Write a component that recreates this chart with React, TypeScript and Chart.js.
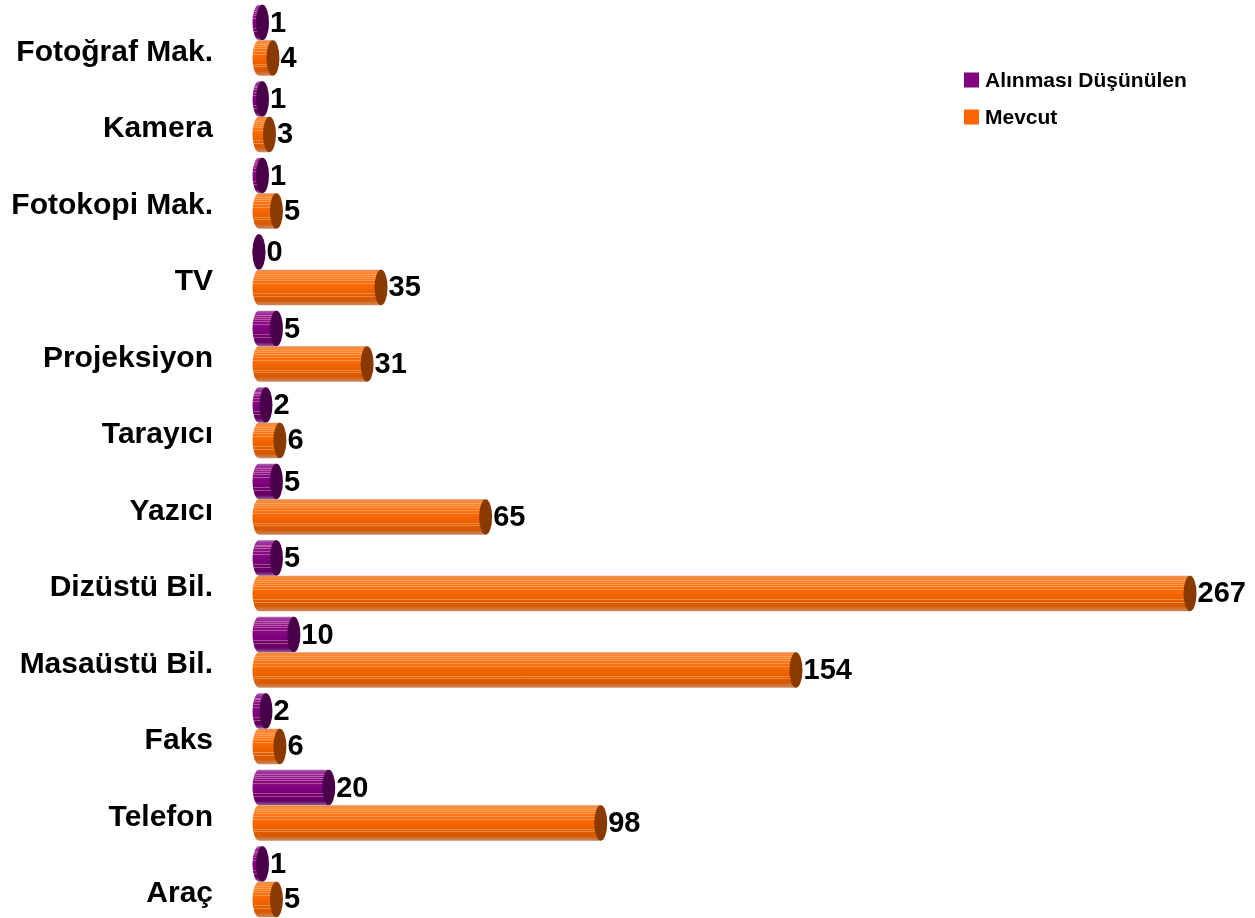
import React, { useEffect, useRef } from 'react';
import { Chart, registerables } from 'chart.js';

Chart.register(...registerables);

const categories = [
  'Fotoğraf Mak.',
  'Kamera',
  'Fotokopi Mak.',
  'TV',
  'Projeksiyon',
  'Tarayıcı',
  'Yazıcı',
  'Dizüstü Bil.',
  'Masaüstü Bil.',
  'Faks',
  'Telefon',
  'Araç',
];
const plannedValues = [1, 1, 1, 0, 5, 2, 5, 5, 10, 2, 20, 1];
const existingValues = [4, 3, 5, 35, 31, 6, 65, 267, 154, 6, 98, 5];
const seriesNames = ['Alınması Düşünülen', 'Mevcut'];
const seriesColors = ['#800080', '#ff6600'];

const FONT = 'Arial, "Liberation Sans", sans-serif';

const bodyStops: [number, string][][] = [
  [
    [0, '#a46aa4'],
    [0.07, '#a02ea0'],
    [0.3, '#8c0c8c'],
    [0.6, '#7a007a'],
    [0.88, '#640064'],
    [1, '#9a609a'],
  ],
  [
    [0, '#dc9062'],
    [0.07, '#ff8a32'],
    [0.3, '#ff7212'],
    [0.55, '#f26400'],
    [0.86, '#d65800'],
    [1, '#cc8a66'],
  ],
];
const capColors = ['#4a0048', '#8a3a00'];
const stripeFracs = [0.12, 0.17, 0.22, 0.3, 0.38, 0.66, 0.74];
const CAP_RX = 6.5;

const cylinderPlugin = {
  id: 'cylinders',
  afterDatasetsDraw(chart: any) {
    const ctx: CanvasRenderingContext2D = chart.ctx;
    chart.data.datasets.forEach((ds: any, di: number) => {
      const meta = chart.getDatasetMeta(di);
      meta.data.forEach((bar: any, i: number) => {
        const { x, y, base, height } = bar.getProps(['x', 'y', 'base', 'height'], true);
        const ry = height / 2;
        const top = y - ry;
        const bot = y + ry;
        const rx = CAP_RX;
        ctx.save();
        const g = ctx.createLinearGradient(0, top, 0, bot);
        bodyStops[di].forEach(([o, c]) => g.addColorStop(o, c));
        ctx.beginPath();
        ctx.moveTo(base, top);
        ctx.lineTo(x, top);
        ctx.lineTo(x, bot);
        ctx.lineTo(base, bot);
        ctx.ellipse(base, y, rx, ry, 0, Math.PI / 2, Math.PI * 1.5);
        ctx.closePath();
        ctx.fillStyle = g;
        ctx.fill();
        ctx.clip();
        ctx.strokeStyle = 'rgba(255,220,190,0.35)';
        ctx.lineWidth = 1;
        stripeFracs.forEach((f) => {
          const yy = Math.round(top + f * height) + 0.5;
          ctx.beginPath();
          ctx.moveTo(base - rx, yy);
          ctx.lineTo(x, yy);
          ctx.stroke();
        });
        ctx.restore();

        ctx.beginPath();
        ctx.ellipse(x, y, rx, ry, 0, 0, Math.PI * 2);
        ctx.fillStyle = capColors[di];
        ctx.fill();

        ctx.fillStyle = '#000';
        ctx.font = `bold 29px ${FONT}`;
        ctx.textBaseline = 'middle';
        ctx.textAlign = 'left';
        ctx.fillText(String(ds.data[i]), x + rx + 1, y + 1);
      });
    });
  },
};

const legendPlugin = {
  id: 'customLegend',
  afterDraw(chart: any) {
    const ctx: CanvasRenderingContext2D = chart.ctx;
    ctx.save();
    seriesNames.forEach((name, i) => {
      const cy = 80 + i * 37;
      ctx.fillStyle = seriesColors[i];
      ctx.fillRect(964, cy - 7.5, 15, 15);
      ctx.fillStyle = '#000';
      ctx.font = `bold 21px ${FONT}`;
      ctx.textBaseline = 'middle';
      ctx.textAlign = 'left';
      ctx.fillText(name, 985, cy + 1);
    });
    ctx.restore();
  },
};

export default function App() {
  const ref = useRef<HTMLCanvasElement>(null);

  useEffect(() => {
    if (!ref.current) return;
    const chart = new Chart(ref.current, {
      type: 'bar',
      data: {
        labels: categories,
        datasets: [
          {
            label: seriesNames[0],
            data: plannedValues,
            backgroundColor: 'rgba(0,0,0,0)',
            borderWidth: 0,
          },
          {
            label: seriesNames[1],
            data: existingValues,
            backgroundColor: 'rgba(0,0,0,0)',
            borderWidth: 0,
          },
        ],
      },
      options: {
        indexAxis: 'y',
        responsive: false,
        animation: false,
        events: [],
        layout: { padding: { top: 2, right: 54.5, bottom: 0, left: 0 } },
        datasets: {
          bar: { categoryPercentage: 0.925, barPercentage: 1 },
        },
        plugins: {
          legend: { display: false },
          tooltip: { enabled: false },
        },
        scales: {
          x: { type: 'linear', min: 0, max: 270, display: false },
          y: {
            type: 'category',
            grid: { display: false, drawTicks: false },
            border: { display: false },
            ticks: {
              color: '#000',
              font: { family: FONT, size: 30, weight: 'bold' },
              padding: 46,
              labelOffset: 12,
              autoSkip: false,
            },
            afterFit(scale: any) {
              scale.width = 259;
              scale.paddingTop = 0;
              scale.paddingBottom = 0;
            },
          },
        },
      } as any,
      plugins: [cylinderPlugin, legendPlugin],
    });
    return () => chart.destroy();
  }, []);

  return (
    <div style={{ position: 'fixed', left: 0, top: 0, width: 1255, height: 920, background: '#fff' }}>
      <canvas ref={ref} width={1255} height={920} style={{ display: 'block' }} />
    </div>
  );
}
